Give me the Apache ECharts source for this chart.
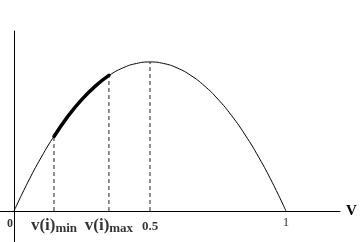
<!DOCTYPE html>
<html><head><meta charset="utf-8">
<script src="https://cdn.jsdelivr.net/npm/echarts@6/dist/echarts.min.js"></script>
<style>html,body{margin:0;padding:0;background:#fff}#c{width:360px;height:242px}</style>
</head><body><div id="c"></div>
<script>
// Curve values (v, f(v))
const curveV = [0,0.05,0.1,0.15,0.2,0.25,0.3,0.35,0.4,0.45,0.5,0.55,0.6,0.65,0.7,0.75,0.8,0.85,0.9,0.95,1];
const curveF = [0,0.19,0.36,0.51,0.64,0.75,0.84,0.91,0.96,0.99,1,0.99,0.96,0.91,0.84,0.75,0.64,0.51,0.36,0.19,0];
// Highlighted (thick) segment between v(i)min and v(i)max
const thickV = [0.147,0.2,0.25,0.3,0.349];
const thickF = [0.50,0.64,0.75,0.84,0.91];
// Dashed drop lines
const dropV = [0.147,0.349,0.5];
const dropF = [0.50,0.91,1];
// Tick labels
const tickValues = [0,0.147,0.349,0.5,1];
const tickLabels = ['{z|0}','{v|v(i)}{s|min}','{v|v(i)}{s|max}','{b|0.5}','{n|1}'];

const font = '"Liberation Serif","Times New Roman",serif';
const series = [
  {type:'line', data: curveV.map((v,i)=>[v,curveF[i]]), smooth:true, symbol:'none',
   lineStyle:{color:'#000', width:1}, silent:true},
  {type:'line', data: thickV.map((v,i)=>[v,thickF[i]]), smooth:true, symbol:'none',
   lineStyle:{color:'#000', width:3.5, cap:'round'}, silent:true}
];
dropV.forEach((v,i)=>{
  series.push({type:'line', data:[[v,0],[v,dropF[i]]], symbol:'none', silent:true,
    lineStyle:{color:'#222', width:1, type:[4,3]}});
});
// tick labels as text anchored at axis positions
series.push({type:'scatter', symbolSize:0, silent:true,
  data: tickValues.map((v,i)=>({value:[v,0], label:{formatter:tickLabels[i], offset: i===0?[-4,0]:[0,0]}})),
  label:{show:true, position:'bottom', distance:5, color:'#000', fontFamily:font,
    rich:{
      z:{fontFamily:font,fontSize:12,fontWeight:'bold',color:'#000',padding:[2,0,0,0]},
      v:{fontFamily:font,fontSize:17,fontWeight:'bold',color:'#000'},
      s:{fontFamily:font,fontSize:13,fontWeight:'bold',color:'#000',padding:[6,0,0,0]},
      b:{fontFamily:font,fontSize:13,fontWeight:'bold',color:'#000',padding:[4,0,0,0]},
      n:{fontFamily:font,fontSize:13,color:'#000',padding:[0,0,4,0]}
    }}
});

const chart = echarts.init(document.getElementById('c'), null, {renderer:'canvas'});
chart.setOption({
  animation:false,
  grid:{left:0,right:20,top:31,bottom:0,containLabel:false,outerBoundsMode:'none'},
  xAxis:{type:'value', min:-0.0515, max:1.1985,
    axisLine:{onZero:true, lineStyle:{color:'#000', width:1}},
    axisTick:{show:false}, splitLine:{show:false}, axisLabel:{show:false},
    name:'V', nameLocation:'end', nameGap:6,
    nameTextStyle:{fontFamily:font, fontSize:15, fontWeight:'bold', color:'#000', verticalAlign:'middle'}
  },
  yAxis:{type:'value', min:-0.208, max:1.208,
    axisLine:{onZero:true, lineStyle:{color:'#000', width:1}},
    axisTick:{show:false}, splitLine:{show:false}, axisLabel:{show:false}},
  series
});
</script></body></html>
